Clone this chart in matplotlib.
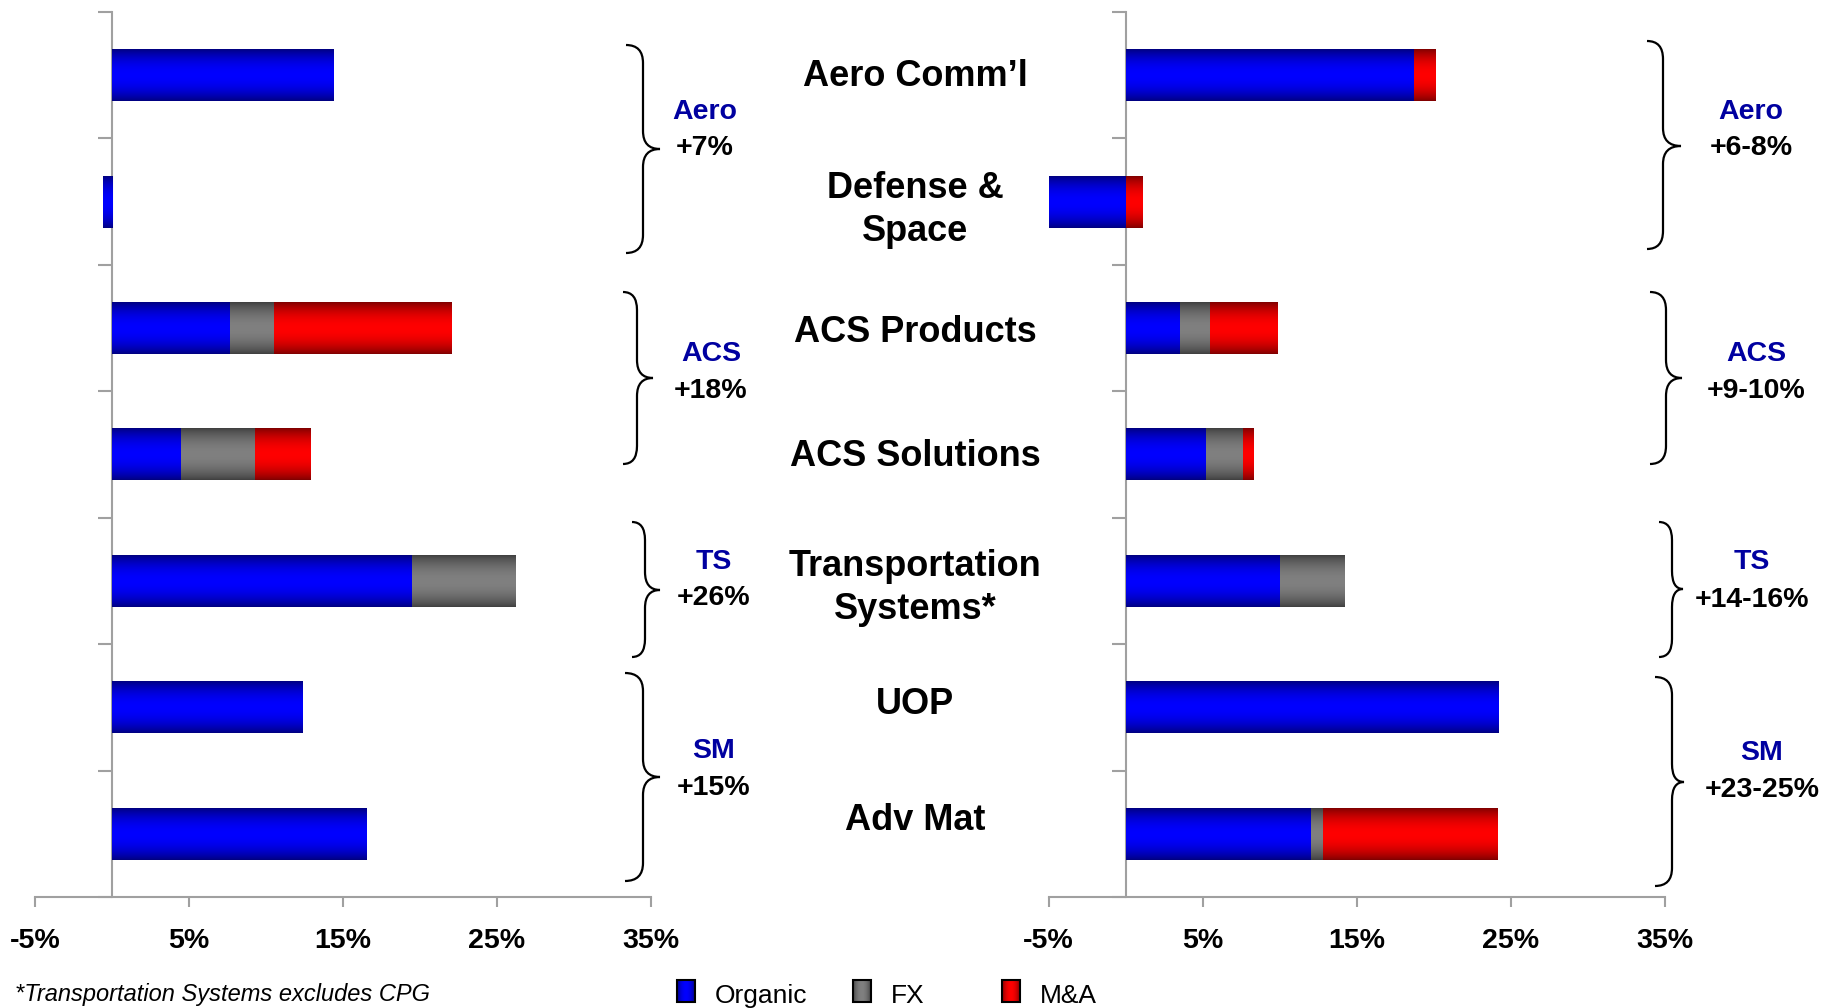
import numpy as np
import matplotlib
matplotlib.use('Agg')
import matplotlib.pyplot as plt
from matplotlib.colors import to_rgb
from matplotlib.path import Path
from matplotlib.patches import PathPatch, Rectangle

plt.rcParams['font.family'] = ['Liberation Sans', 'DejaVu Sans']

categories = ['Aero Comm\u2019l', 'Defense &\nSpace', 'ACS Products', 'ACS Solutions',
              'Transportation\nSystems*', 'UOP', 'Adv Mat']

# left panel (actual growth)
left_organic = [14.4, -0.6, 7.7, 4.5, 19.5, 12.4, 16.5]
left_fx = [0, 0, 2.8, 4.8, 6.7, 0, 0]
left_ma = [0, 0, 11.5, 3.6, 0, 0, 0]

# right panel (outlook)
right_organic = [18.7, -5.0, 3.5, 5.2, 10.0, 24.2, 12.0]
right_fx = [0, 0, 2.0, 2.4, 4.2, 0, 0.8]
right_ma = [1.4, 1.05, 4.35, 0.7, 0, 0, 11.3]

groups = ['Aero', 'ACS', 'TS', 'SM']
left_totals = ['+7%', '+18%', '+26%', '+15%']
right_totals = ['+6-8%', '+9-10%', '+14-16%', '+23-25%']

series_names = ['Organic', 'FX', 'M&A']
series_colors = ['#0000FF', '#808080', '#FF0000']

xticks = [-5, 5, 15, 25, 35]

W, H = 1821, 1008
fig = plt.figure(figsize=(W / 100, H / 100), dpi=100)


def px_rect(x0, x1, y0, y1):
    return [x0 / W, 1 - y1 / H, (x1 - x0) / W, (y1 - y0) / H]


def shade(color, n=80):
    t = np.linspace(0, 1, n)
    f = 0.5 + 0.5 * np.sin(np.pi * t) ** 0.8
    return f[:, None, None] * np.array(to_rgb(color))[None, None, :]


AXIS_GREY = '#A0A0A0'


def draw_panel(ax, organic, fx, ma):
    n = len(categories)
    y = np.arange(n)
    pos = np.zeros(n)
    neg = np.zeros(n)
    for vals, col in zip([organic, fx, ma], series_colors):
        vals = np.asarray(vals, dtype=float)
        left = np.where(vals >= 0, pos, neg)
        bars = ax.barh(y, vals, left=left, height=0.41, color=col, linewidth=0)
        pos += np.clip(vals, 0, None)
        neg += np.clip(vals, None, 0)
        for b in bars:
            w = b.get_width()
            if w == 0:
                continue
            x0 = b.get_x()
            ax.imshow(shade(col), extent=[min(x0, x0 + w), max(x0, x0 + w),
                                          b.get_y() + b.get_height(), b.get_y()],
                      aspect='auto', interpolation='bilinear', zorder=3)
            b.set_visible(False)

    ax.set_xlim(-5, 35)
    ax.set_ylim(n - 0.5, -0.5)
    for s in ['top', 'right']:
        ax.spines[s].set_visible(False)
    ax.spines['left'].set_position(('data', 0))
    for s in ['left', 'bottom']:
        ax.spines[s].set_color(AXIS_GREY)
        ax.spines[s].set_linewidth(1.5)
    ax.set_xticks(xticks)
    ax.set_xticklabels(['%d%%' % v for v in xticks], fontweight='bold')
    ax.set_yticks(np.arange(-0.5, n, 1))
    ax.set_yticklabels([])
    ax.tick_params(axis='y', direction='out', length=10, width=1.5, color=AXIS_GREY)
    ax.tick_params(axis='x', direction='out', length=7, width=1.5, color=AXIS_GREY,
                   pad=15, labelsize=20.5)
    ax.patch.set_visible(False)


ax_l = fig.add_axes(px_rect(34.8, 650.9, 12, 897))
ax_r = fig.add_axes(px_rect(1048.7, 1664.9, 12, 897))
draw_panel(ax_l, left_organic, left_fx, left_ma)
draw_panel(ax_r, right_organic, right_fx, right_ma)

# overlay in pixel coordinates for labels, braces and legend
ov = fig.add_axes([0, 0, 1, 1])
ov.set_xlim(0, W)
ov.set_ylim(H, 0)
ov.axis('off')
ov.patch.set_visible(False)

label_y = [77, 210, 332, 457, 588, 705, 820]
for name, yy in zip(categories, label_y):
    ov.text(915, yy, name, ha='center', va='center', fontsize=26,
            fontweight='bold', linespacing=1.33)


def brace(x0, x1, x2, yt, yb, ym):
    r = 18
    verts = [(x0, yt), (x1, yt), (x1, yt + r),
             (x1, ym - r), (x1, ym), (x2, ym),
             (x1, ym), (x1, ym + r),
             (x1, yb - r), (x1, yb), (x0, yb)]
    C3 = Path.CURVE3
    codes = [Path.MOVETO, C3, C3, Path.LINETO, C3, C3, C3, C3, Path.LINETO, C3, C3]
    ov.add_patch(PathPatch(Path(verts, codes), fill=False, lw=1.6, color='black'))


left_braces = [(626, 643, 660, 45, 253, 149), (623, 637, 653, 292, 464, 378),
               (632, 645, 660, 522, 657, 590), (625, 643, 660, 673, 881, 777)]
right_braces = [(1647, 1663, 1681, 41, 249, 146), (1650, 1666, 1682, 292, 464, 378),
                (1659, 1672, 1683, 522, 657, 589), (1655, 1672, 1684, 677, 886, 782)]
for b in left_braces + right_braces:
    brace(*b)

left_lab_pos = [(705, 112, 148), (711, 354, 391), (714, 562, 598), (714, 751, 788)]
right_lab_pos = [(1751, 112, 148), (1756, 354, 391), (1752, 562, 600), (1762, 753, 790)]
for g, tot, (x, y1, y2) in zip(groups, left_totals, left_lab_pos):
    ov.text(x, y1, g, ha='center', va='center', fontsize=20.5, fontweight='bold', color='#0000A0')
    ov.text(x, y2, tot, ha='center', va='center', fontsize=20.5, fontweight='bold')
for g, tot, (x, y1, y2) in zip(groups, right_totals, right_lab_pos):
    ov.text(x, y1, g, ha='center', va='center', fontsize=20.5, fontweight='bold', color='#0000A0')
    ov.text(x, y2, tot, ha='center', va='center', fontsize=20.5, fontweight='bold')

# legend
legend_x = [677, 853, 1002]
for name, col, x in zip(series_names, series_colors, legend_x):
    ov.imshow(shade(col).transpose(1, 0, 2), extent=[x, x + 18, 1002, 980],
              aspect='auto', interpolation='bilinear')
    ov.add_patch(Rectangle((x, 980), 18, 22, fill=False, ec='black', lw=1.5))
    ov.text(x + 38, 996, name, ha='left', va='center', fontsize=19)
ov.set_xlim(0, W)
ov.set_ylim(H, 0)

ov.text(15, 994, '*Transportation Systems excludes CPG', ha='left', va='center',
        fontsize=17, fontstyle='italic')

fig.savefig('out.png', dpi=100)
